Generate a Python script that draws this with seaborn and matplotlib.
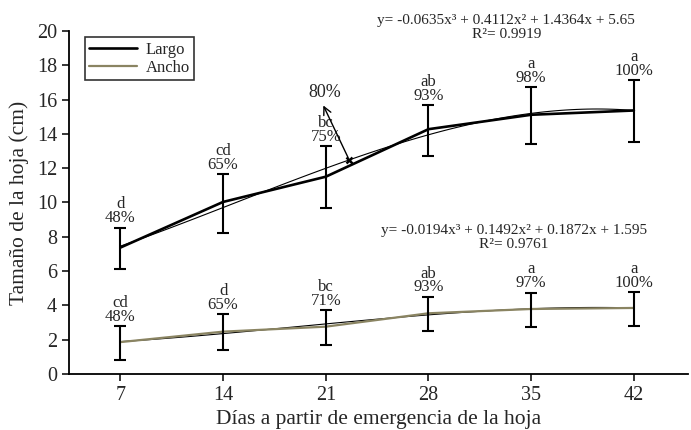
import numpy as np
import pandas as pd
import matplotlib
matplotlib.use('Agg')
import matplotlib.pyplot as plt
import seaborn as sns

# datos
dias = [7, 14, 21, 28, 35, 42]
largo = [7.37, 10.03, 11.50, 14.27, 15.11, 15.36]
largo_sup = [8.53, 11.64, 13.29, 15.67, 16.73, 17.14]
largo_inf = [6.10, 8.20, 9.69, 12.73, 13.39, 13.53]
ancho = [1.86, 2.47, 2.76, 3.54, 3.79, 3.85]
ancho_sup = [2.78, 3.48, 3.73, 4.50, 4.74, 4.78]
ancho_inf = [0.82, 1.42, 1.69, 2.52, 2.72, 2.80]
etq_largo = ['d\n48%', 'cd\n65%', 'bc\n75%', 'ab\n93%', 'a\n98%', 'a\n100%']
etq_ancho = ['cd\n48%', 'd\n65%', 'bc\n71%', 'ab\n93%', 'a\n97%', 'a\n100%']
eq_largo = 'y= -0.0635x³ + 0.4112x² + 1.4364x + 5.65\nR²= 0.9919'
eq_ancho = 'y= -0.0194x³ + 0.1492x² + 0.1872x + 1.595\nR²= 0.9761'

sns.set_style('ticks')
plt.rcParams['font.family'] = ['Liberation Serif', 'DejaVu Serif']

color_ancho = '#8a8462'

df = pd.DataFrame({'dias': dias, 'largo': largo, 'ancho': ancho})

fig = plt.figure(figsize=(6.91, 4.30), dpi=100)
ax = fig.add_axes([0.0999, 0.1302, 0.896, 0.798])

# lineas de tendencia (polinomio de 3er grado)
sns.regplot(x='dias', y='largo', data=df, order=3, ci=None, scatter=False, truncate=True,
            line_kws=dict(color='black', lw=0.8), ax=ax)
sns.regplot(x='dias', y='ancho', data=df, order=3, ci=None, scatter=False, truncate=True,
            line_kws=dict(color='black', lw=0.8), ax=ax)

sns.lineplot(x='dias', y='largo', data=df, color='black', lw=1.9, label='Largo', ax=ax)
sns.lineplot(x='dias', y='ancho', data=df, color=color_ancho, lw=1.6, label='Ancho', ax=ax)

# barras de error
for vals, sup, inf in [(largo, largo_sup, largo_inf), (ancho, ancho_sup, ancho_inf)]:
    v = np.array(vals)
    yerr = [v - np.array(inf), np.array(sup) - v]
    ax.errorbar(dias, v, yerr=yerr, fmt='none', ecolor='black', elinewidth=1.5,
                capsize=4, capthick=1.5, zorder=4)

for x, top, t in zip(dias, largo_sup, etq_largo):
    ax.annotate(t, (x, top), xytext=(0, 1), textcoords='offset points', ha='center',
                va='bottom', fontsize=12, linespacing=0.82)
for x, top, t in zip(dias, ancho_sup, etq_ancho):
    ax.annotate(t, (x, top), xytext=(0, 1), textcoords='offset points', ha='center',
                va='bottom', fontsize=12, linespacing=0.82)

# ecuaciones
ax.text(33.3, 20.2, eq_largo, ha='center', va='center', fontsize=11, linespacing=1.05, clip_on=False)
ax.text(33.8, 7.95, eq_ancho, ha='center', va='center', fontsize=11, linespacing=1.05)

# 80%
ax.plot([22.6], [12.47], marker='x', color='black', ms=5, mew=1.8, zorder=5)
ax.annotate('', xy=(20.75, 15.8), xytext=(22.6, 12.47),
            arrowprops=dict(arrowstyle='->', color='black', lw=1, mutation_scale=14))
ax.text(20.9, 16.4, '80%', ha='center', va='center', fontsize=13)

ax.set_xlim(3.5, 45.7)
ax.set_ylim(0, 20)
ax.set_xticks(dias)
ax.set_yticks(range(0, 21, 2))
ax.tick_params(labelsize=14.5, width=1.3, length=5)
for s in ['left', 'bottom']:
    ax.spines[s].set_linewidth(1.3)
    ax.spines[s].set_color('black')
sns.despine(ax=ax)
ax.set_xlabel('Días a partir de emergencia de la hoja', fontsize=15.5, labelpad=4)
ax.set_ylabel('Tamaño de la hoja (cm)', fontsize=15.5, labelpad=6)

leg = ax.legend(loc='upper left', bbox_to_anchor=(0.012, 1.005), fontsize=12, frameon=True,
                fancybox=False, edgecolor='black', handlelength=2.9, borderpad=0.25,
                labelspacing=0.15, handletextpad=0.5)
leg.get_frame().set_linewidth(1.2)

fig.savefig('out.png', dpi=100)
